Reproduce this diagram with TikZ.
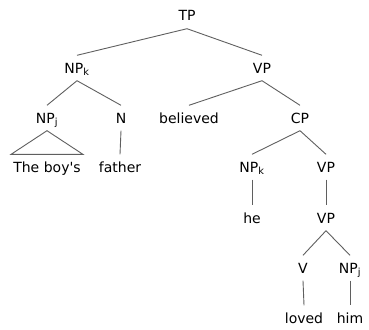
\documentclass[tikz,border=0pt]{standalone}
\usepackage{fontspec}
\setmainfont{DejaVu Sans}[Ligatures=TeXOff]
\definecolor{ramocol}{RGB}{95,95,95}
\begin{document}
\begin{tikzpicture}[x=1pt, y=-1pt,
        nodo/.style={inner xsep=2pt, inner ysep=7.5pt, text height=10pt, text depth=0pt, font=\fontsize{14}{16}\selectfont},
        ramo/.style={draw=ramocol, line width=0.9pt}]
        \useasboundingbox (0,0) rectangle (369,329);
        %%%%%%%%%% Nodi %%%%%%%%%%
        \node[nodo] (TP)       at (187,16)  {TP};
        \node[nodo] (NPk)      at (77,68)   {NP\textsubscript{k}};
        \node[nodo] (VP)       at (262,68)  {VP};
        \node[nodo] (NPj)      at (47,118)  {NP\textsubscript{j}};
        \node[nodo] (N)        at (121,118) {N};
        \node[nodo] (believed) at (189,118) {believed};
        \node[nodo] (CP)       at (300,118) {CP};
        \node[nodo] (boys)     at (47,167)  {The boy's};
        \node[nodo] (father)   at (120,167) {father};
        \node[nodo] (NPkb)     at (252,167) {NP\textsubscript{k}};
        \node[nodo] (VPb)      at (326,167) {VP};
        \node[nodo] (he)       at (252,218) {he};
        \node[nodo] (VPc)      at (326,218) {VP};
        \node[nodo] (V)        at (303,268) {V};
        \node[nodo] (NPjb)     at (350,268) {NP\textsubscript{j}};
        \node[nodo] (loved)    at (304,318) {loved};
        \node[nodo] (him)      at (350,318) {him};

        %%%%%%%%%% Archi %%%%%%%%%%
        \draw[ramo] (TP.south) -- (NPk.north);
        \draw[ramo] (TP.south) -- (VP.north);
        \draw[ramo] (NPk.south) -- (NPj.north);
        \draw[ramo] (NPk.south) -- (N.north);
        \draw[ramo] (NPj.south) -- (boys.north west) -- (boys.north east) -- cycle;
        \draw[ramo] (N.south) -- (father.north);
        \draw[ramo] (VP.south) -- (believed.north);
        \draw[ramo] (VP.south) -- (CP.north);
        \draw[ramo] (CP.south) -- (NPkb.north);
        \draw[ramo] (CP.south) -- (VPb.north);
        \draw[ramo] (NPkb.south) -- (he.north);
        \draw[ramo] (VPb.south) -- (VPc.north);
        \draw[ramo] (VPc.south) -- (V.north);
        \draw[ramo] (VPc.south) -- (NPjb.north);
        \draw[ramo] (V.south) -- (loved.north);
        \draw[ramo] (NPjb.south) -- (him.north);
\end{tikzpicture}
\end{document}
